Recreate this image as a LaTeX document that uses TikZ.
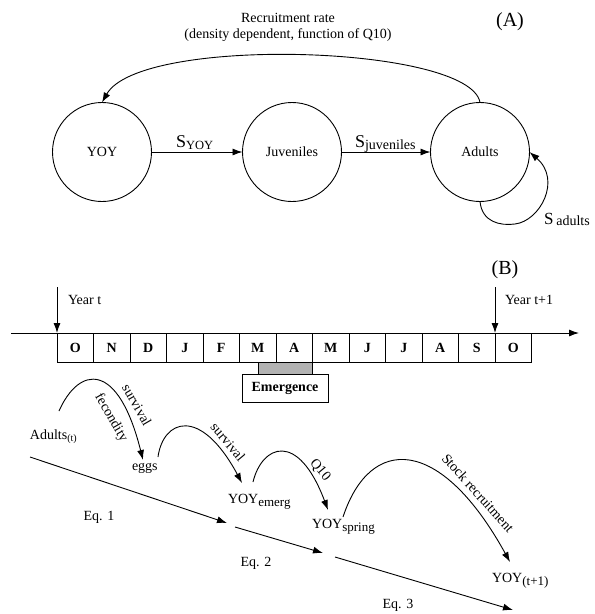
\documentclass[tikz,border=0pt]{standalone}
\usepackage{fontspec}
\setmainfont{Liberation Serif}
\usetikzlibrary{arrows.meta}
\begin{document}
\begin{tikzpicture}[x=1pt,y=-1pt,
  every node/.style={inner sep=0pt,outer sep=0pt},
  state/.style={draw,circle,line width=0.9pt,minimum size=99pt,font=\fontsize{14}{16}\selectfont},
  arr/.style={line width=0.9pt,-{Latex[length=10pt,width=7pt]}},
  ln/.style={line width=0.9pt},
  lab/.style={font=\fontsize{14}{16}\selectfont},
  big/.style={font=\fontsize{20}{22}\selectfont},
  month/.style={draw,line width=0.9pt,minimum width=36.5pt,minimum height=29pt,font=\fontsize{14}{16}\bfseries\selectfont},
]
\useasboundingbox (0,0) rectangle (595,614);

% ---------- (A) ----------
\node[big] (A) at (510,22) {(A)};
\node[lab,align=center] (rec) at (288,27) {Recruitment rate\\(density dependent, function of Q10)};

\node[state] (yoy) at (102,152) {YOY};
\node[state] (juv) at (292,152) {Juveniles};
\node[state] (adu) at (480,152) {Adults};
\draw[arr] (yoy) -- (juv);
\draw[arr] (juv) -- (adu);

\node[anchor=base west] (syoy) at (176,147) {\fontsize{18}{20}\selectfont S\raisebox{-2pt}{\fontsize{12.5}{14}\selectfont YOY}};
\node[anchor=base west] (sjuv) at (355,147) {\fontsize{18}{20}\selectfont S\raisebox{-2pt}{\fontsize{14}{16}\selectfont juveniles}};
\node[anchor=base west] (sadu) at (544,224) {\fontsize{17}{20}\selectfont S\,\raisebox{-1pt}{\fontsize{14}{16}\selectfont adults}};

\draw[arr] (adu.north) .. controls (470,45) and (140,35) .. (yoy.north);
\draw[arr] (adu.south) .. controls (482,222) and (500,226) .. (515,224)
  .. controls (540,221) and (562,180) .. (adu.east);

% ---------- (B) ----------
\node[big] (B) at (505,270) {(B)};

\coordinate (tlS) at (11,333);
\coordinate (tlE) at (579,333);
\draw[arr] (tlS) -- (tlE);

\foreach \m [count=\i] in {O,N,D,J,F,M,A,M,J,J,A,S,O}
  \node[month] (m\i) at ({57+36.5*(\i-0.5)},347.5) {\m};

\coordinate (yt0) at (57,287);
\coordinate (yt1) at (495,287);
\draw[arr] (yt0) -- (m1.north west);
\draw[arr] (yt1) -- (m13.north west);
\node[lab,anchor=west] (ylab0) at (68,300) {Year t};
\node[lab,anchor=west] (ylab1) at (505,300) {Year t+1};

\node[draw,line width=0.9pt,fill=gray!60,minimum width=54pt,minimum height=12pt] (grey) at (285,368) {};
\node[draw,line width=0.9pt,fill=white,minimum width=86pt,minimum height=28pt,font=\fontsize{14}{16}\bfseries\selectfont] (emg) at (285,388) {Emergence};

% lower part
\node[lab,anchor=base west] (adt) at (30,439) {Adults\raisebox{-2.5pt}{\fontsize{10}{12}\selectfont (t)}};
\node[lab,anchor=base west] (eggs) at (132,470) {eggs};
\node[lab,anchor=base west] (ye) at (228,503) {YOY\raisebox{-3pt}{\fontsize{13}{15}\selectfont emerg}};
\node[lab,anchor=base west] (ys) at (312,528) {YOY\raisebox{-3pt}{\fontsize{13}{15}\selectfont spring}};
\node[lab,anchor=base west] (ytp) at (492,582) {YOY\raisebox{-3pt}{\fontsize{13}{15}\selectfont (t+1)}};

\coordinate (a1s) at (59,411);  \coordinate (a1e) at (143,460);
\coordinate (a2s) at (158,457); \coordinate (a2e) at (242,483);
\coordinate (a3s) at (253,482); \coordinate (a3e) at (328,510);
\coordinate (a4s) at (343,517); \coordinate (a4e) at (510,562);
\draw[arr] (a1s) .. controls (79,366) and (118,360) .. (a1e);
\draw[arr] (a2s) .. controls (163,420) and (200,405) .. (a2e);
\draw[arr] (a3s) .. controls (262,445) and (298,430) .. (a3e);
\draw[arr] (a4s) .. controls (370,435) and (440,435) .. (a4e);

\node[lab,rotate=-60] (sv1) at (137,405) {survival};
\node[lab,rotate=-60] (fec) at (111,418) {fecondity};
\node[lab,rotate=-50] (sv2) at (228,442) {survival};
\node[lab,rotate=-50] (q10) at (320,470) {Q10};
\node[lab,rotate=-48] (stock) at (478,493) {Stock recruitment};

\coordinate (e1s) at (30,457);  \coordinate (e1e) at (227,523);
\coordinate (e2s) at (235,527); \coordinate (e2e) at (323,553);
\coordinate (e3s) at (335,557); \coordinate (e3e) at (513,610);
\draw[arr] (e1s) -- (e1e);
\draw[arr] (e2s) -- (e2e);
\draw[arr] (e3s) -- (e3e);
\node[lab] (eq1) at (99,517) {Eq. 1};
\node[lab] (eq2) at (256,563) {Eq. 2};
\node[lab] (eq3) at (398,605) {Eq. 3};
\end{tikzpicture}
\end{document}
